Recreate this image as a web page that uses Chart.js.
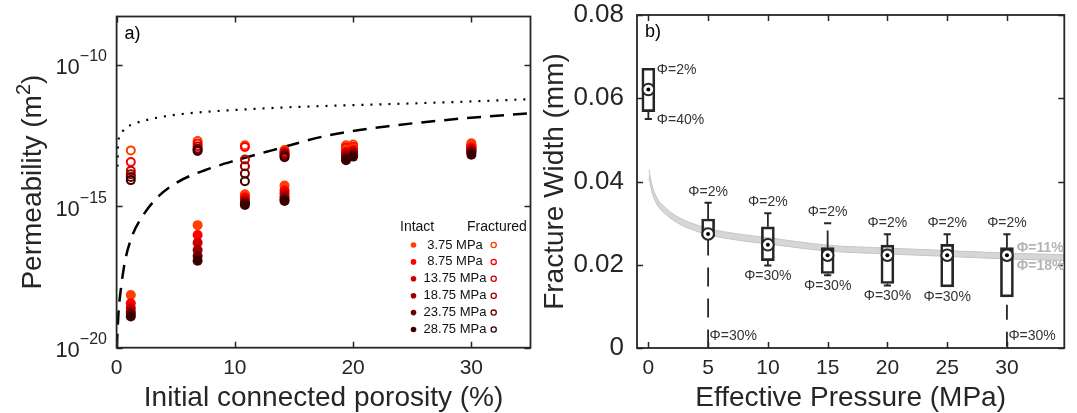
<!DOCTYPE html>
<html><head><meta charset="utf-8">
<script src="https://cdn.jsdelivr.net/npm/chart.js@4.4.1/dist/chart.umd.min.js"></script>
<style>
html,body{margin:0;padding:0;background:#fff;}
#wrap{position:relative;width:1077px;height:413px;overflow:hidden;background:#fff;}
canvas{position:absolute;top:0;}
</style></head><body>
<div id="wrap">
<canvas id="ca" width="540" height="413" style="left:0;width:540px;height:413px"></canvas>
<canvas id="cb" width="537" height="413" style="left:540px;width:537px;height:413px"></canvas>
</div>
<script>
// ---------------- Panel a data (permeability exponents, log10 m^2) ----------------
const porosity = [1.2, 6.85, 10.85, 14.2, 19.4, 20.0, 30.0];
const pressureLabels = ['3.75 MPa', '8.75 MPa', '13.75 MPa', '18.75 MPa', '23.75 MPa', '28.75 MPa'];
const intact375  = [-18.14, -15.67, -14.58, -14.27, -13.00, -12.95, -12.85];
const intact875  = [-18.43, -16.02, -14.69, -14.45, -13.08, -13.02, -12.92];
const intact1375 = [-18.60, -16.29, -14.78, -14.55, -13.15, -13.08, -12.98];
const intact1875 = [-18.73, -16.55, -14.85, -14.67, -13.22, -13.14, -13.05];
const intact2375 = [-18.80, -16.76, -14.90, -14.76, -13.30, -13.20, -13.10];
const intact2875 = [-18.90, -16.93, -14.96, -14.82, -13.38, -13.25, -13.18];
const fractured375  = [-13.03, -12.70, -12.85, -13.02, -12.85, -12.82, -12.78];
const fractured875  = [-13.44, -12.79, -12.91, -13.08, -12.92, -12.90, -12.84];
const fractured1375 = [-13.75, -12.88, -13.35, -13.12, -12.98, -12.96, -12.90];
const fractured1875 = [-13.87, -12.96, -13.59, -13.17, -13.05, -13.02, -12.95];
const fractured2375 = [-13.97, -13.00, -13.85, -13.22, -13.10, -13.08, -13.00];
const fractured2875 = [-14.08, -13.05, -14.12, -13.27, -13.15, -13.12, -13.05];
const dottedX = [0.08, 0.12, 0.3, 0.7, 1.55, 2.7, 4.65, 7.5, 10.5, 15, 21.7, 28, 35];
const dottedY = [-13.6, -12.85, -12.5, -12.26, -12.08, -11.94, -11.79, -11.67, -11.59, -11.5, -11.41, -11.33, -11.22];
const dashedX = [0.02, 0.15, 0.37, 0.71, 1.27, 2.12, 3.5, 5.2, 7.47, 10.1, 13.2, 18.0, 23.7, 29.3, 35];
const dashedY = [-20, -18.83, -17.9, -16.95, -16.1, -15.4, -14.67, -14.14, -13.73, -13.38, -13.02, -12.49, -12.14, -11.9, -11.72];
const xTicksA = [0, 10, 20, 30];
const yTickExpA = [-20, -15, -10];

// ---------------- Panel b data (fracture width, mm) ----------------
const pressureB   = [0, 5, 10, 15, 20, 25, 30];
const boxLow      = [0.0568, 0.0268, 0.0210, 0.0179, 0.0155, 0.0147, 0.0123];
const boxHigh     = [0.0672, 0.0310, 0.0291, 0.0241, 0.0247, 0.0249, 0.0241];
const medianW     = [0.0621, 0.0274, 0.0248, 0.0223, 0.0223, 0.0223, 0.0223];
const whiskerHigh = [0.0672, 0.0349, 0.0324, 0.0282, 0.0273, 0.0273, 0.0273];
const whiskerLow  = [0.0550, 0.0, 0.0198, 0.0175, 0.0150, 0.0147, 0.0];
const upperCap    = [null, 0.0349, 0.0324, 0.0300, 0.0273, 0.0273, 0.0273];
const lowerCap    = [0.0550, null, 0.0198, 0.0175, 0.0150, null, null];
const topLabels    = ['Φ=2%', 'Φ=2%', 'Φ=2%', 'Φ=2%', 'Φ=2%', 'Φ=2%', 'Φ=2%'];
const bottomLabels = ['Φ=40%', 'Φ=30%', 'Φ=30%', 'Φ=30%', 'Φ=30%', 'Φ=30%', 'Φ=30%'];
const bandX   = [0.05, 0.3, 0.7, 1.5, 2.65, 4, 5, 7.5, 10, 15, 20, 25, 30, 34.8];
const band11Y = [0.0428, 0.0392, 0.0362, 0.0335, 0.0312, 0.0296, 0.0287, 0.0274, 0.0265, 0.0247, 0.0240, 0.0234, 0.0228, 0.0224];
const band18Y = [0.0410, 0.0375, 0.0346, 0.0320, 0.0297, 0.0281, 0.0272, 0.0259, 0.0250, 0.0233, 0.0226, 0.0220, 0.0214, 0.0210];
const bandLabels = ['Φ=11%', 'Φ=18%'];
const xTicksB = [0, 5, 10, 15, 20, 25, 30];
const yTicksB = [0, 0.02, 0.04, 0.06, 0.08];

// ---------------- styling ----------------
const FONT = "'Liberation Sans', Arial, Helvetica, sans-serif";
const INK = '#262626';
const pressureColors = ['#ff4000', '#ff0000', '#cc0000', '#9c0000', '#6c0000', '#3a0000'];
Chart.defaults.font.family = FONT;
Chart.defaults.color = INK;

const noPadFit = (prop, size) => s => {
  s[prop] = size;
  s.paddingTop = 0; s.paddingBottom = 0; s.paddingLeft = 0; s.paddingRight = 0;
};

const framePlugin = {
  id: 'frame',
  afterDatasetsDraw(chart) {
    const {ctx, chartArea: {left, right, top, bottom}} = chart;
    const xs = chart.scales.x, ys = chart.scales.y;
    ctx.save();
    ctx.strokeStyle = INK;
    ctx.lineWidth = 1.5;
    ctx.beginPath();
    xs.ticks.forEach(t => {
      const px = Math.round(xs.getPixelForValue(t.value)) + 0.5;
      ctx.moveTo(px, bottom); ctx.lineTo(px, bottom - 6);
      ctx.moveTo(px, top); ctx.lineTo(px, top + 6);
    });
    ys.ticks.forEach(t => {
      const py = Math.round(ys.getPixelForValue(t.value)) + 0.5;
      ctx.moveTo(left, py); ctx.lineTo(left + 6, py);
      ctx.moveTo(right, py); ctx.lineTo(right - 6, py);
    });
    ctx.stroke();
    ctx.lineWidth = 1.8;
    ctx.strokeRect(left, top, right - left, bottom - top);
    ctx.restore();
  }
};

const panelLabel = txt => ({
  id: 'panelLabel' + txt.replace(')', ''),
  afterDraw(chart) {
    const {ctx, chartArea: {left, top}} = chart;
    ctx.save();
    ctx.font = '18px ' + FONT;
    ctx.fillStyle = '#000';
    ctx.textAlign = 'left';
    ctx.textBaseline = 'middle';
    ctx.fillText(txt, left + 8, top + 17.5);
    ctx.restore();
  }
});

// ---------------- Panel a ----------------
const toLogPts = (xs, exps) => xs.map((x, i) => ({x: x, y: Math.pow(10, exps[i])}));
const intactSets = [intact375, intact875, intact1375, intact1875, intact2375, intact2875];
const fracturedSets = [fractured375, fractured875, fractured1375, fractured1875, fractured2375, fractured2875];

const datasetsA = [];
datasetsA.push({type: 'line', label: 'dotted model', data: toLogPts(dottedX, dottedY), borderColor: '#000',
  borderWidth: 2.2, borderDash: [2, 7], pointRadius: 0, cubicInterpolationMode: 'monotone', fill: false, order: 300});
datasetsA.push({type: 'line', label: 'dashed model', data: toLogPts(dashedX, dashedY), borderColor: '#000',
  borderWidth: 2.5, borderDash: [14, 9], pointRadius: 0, cubicInterpolationMode: 'monotone', fill: false, order: 301});
fracturedSets.forEach((s, i) => datasetsA.push({type: 'scatter', label: 'Fractured ' + pressureLabels[i],
  data: toLogPts(porosity, s), pointRadius: 4, pointBorderWidth: 2, pointBackgroundColor: 'rgba(255,255,255,0)',
  pointBorderColor: pressureColors[i], order: 200 - i}));
intactSets.forEach((s, i) => datasetsA.push({type: 'scatter', label: 'Intact ' + pressureLabels[i],
  data: toLogPts(porosity, s), pointRadius: 5, pointBorderWidth: 0, pointBackgroundColor: pressureColors[i],
  pointBorderColor: pressureColors[i], order: 100 - i}));

const legendA = {
  id: 'legendA',
  afterDraw(chart) {
    const {ctx, chartArea: {right, bottom}} = chart;
    ctx.save();
    ctx.fillStyle = '#111';
    ctx.textBaseline = 'middle';
    ctx.font = '14px ' + FONT;
    ctx.textAlign = 'left';
    ctx.fillText('Intact', right - 130.5, bottom - 121);
    ctx.fillText('Fractured', right - 63.5, bottom - 121);
    ctx.font = '13px ' + FONT;
    pressureLabels.forEach((lab, i) => {
      const y = bottom - 102.7 + i * 16.9;
      ctx.fillStyle = pressureColors[i];
      ctx.beginPath(); ctx.arc(right - 117, y, 2.8, 0, Math.PI * 2); ctx.fill();
      ctx.strokeStyle = pressureColors[i]; ctx.lineWidth = 1.3;
      ctx.beginPath(); ctx.arc(right - 36.8, y, 2.6, 0, Math.PI * 2); ctx.stroke();
      ctx.fillStyle = '#111';
      ctx.textAlign = 'center';
      ctx.fillText(lab, right - 75.5, y);
    });
    ctx.restore();
  }
};

// y tick labels with real superscript exponents, and the y title with m^2
const logAxisText = {
  id: 'logAxisText',
  afterDraw(chart) {
    const {ctx, chartArea: {left, top, bottom}} = chart;
    const ys = chart.scales.y;
    ctx.save();
    ctx.fillStyle = INK;
    ctx.textBaseline = 'middle';
    ys.ticks.forEach(t => {
      const py = ys.getPixelForValue(t.value);
      const expTxt = String(Math.round(Math.log10(t.value))).replace('-', '\u2212');
      ctx.font = '16px ' + FONT;
      ctx.textAlign = 'right';
      const xr = left - 9.6;
      const ew = ctx.measureText(expTxt).width;
      ctx.fillText(expTxt, xr, py - 8);
      ctx.font = '22px ' + FONT;
      ctx.fillText('10', xr - ew, py + 3.5);
    });
    // axis title
    const mainTxt = 'Permeability (m', supTxt = '2', endTxt = ')';
    ctx.font = '28px ' + FONT;
    const w1 = ctx.measureText(mainTxt).width, w3 = ctx.measureText(endTxt).width;
    ctx.font = '20px ' + FONT;
    const w2 = ctx.measureText(supTxt).width;
    const total = w1 + w2 + w3;
    ctx.translate(41, (top + bottom) / 2);
    ctx.rotate(-Math.PI / 2);
    ctx.textAlign = 'left';
    ctx.textBaseline = 'alphabetic';
    ctx.font = '28px ' + FONT;
    ctx.fillText(mainTxt, -total / 2, 0);
    ctx.font = '20px ' + FONT;
    ctx.fillText(supTxt, -total / 2 + w1, -11);
    ctx.font = '28px ' + FONT;
    ctx.fillText(endTxt, -total / 2 + w1 + w2, 0);
    ctx.restore();
  }
};

new Chart(document.getElementById('ca'), {
  type: 'scatter',
  data: {datasets: datasetsA},
  options: {
    responsive: false, animation: false,
    layout: {padding: {top: 16.5, right: 9.5, left: 0, bottom: 0}},
    plugins: {legend: {display: false}, tooltip: {enabled: false}},
    scales: {
      x: {
        type: 'linear', min: 0, max: 35, offset: false,
        grid: {display: false, drawTicks: false}, border: {display: false},
        afterBuildTicks: s => { s.ticks = xTicksA.map(v => ({value: v})); },
        afterFit: noPadFit('height', 65.3),
        ticks: {font: {size: 21}, color: INK, padding: 8, maxRotation: 0, autoSkip: false, callback: v => String(v)},
        title: {display: true, text: 'Initial connected porosity (%)', color: INK,
          font: {size: 28, lineHeight: 1}, padding: {top: 0, bottom: 1}}
      },
      y: {
        type: 'logarithmic', min: 1e-20, max: Math.pow(10, -8.3),
        grid: {display: false, drawTicks: false}, border: {display: false},
        afterBuildTicks: s => { s.ticks = yTickExpA.map(e => ({value: Math.pow(10, e)})); },
        afterFit: noPadFit('width', 116.6),
        ticks: {display: false},
        title: {display: false}
      }
    }
  },
  plugins: [framePlugin, legendA, logAxisText, panelLabel('a)')]
});

// ---------------- Panel b ----------------
const toXY = (xs, ys) => xs.map((x, i) => ({x: x, y: ys[i]}));
const solidWhiskers = [];
pressureB.forEach((p, i) => {
  if (whiskerHigh[i] > boxHigh[i]) {
    solidWhiskers.push({x: p, y: boxHigh[i]}, {x: p, y: whiskerHigh[i]}, {x: p, y: null});
  }
  if (whiskerLow[i] > 0 && whiskerLow[i] < boxLow[i]) {
    solidWhiskers.push({x: p, y: whiskerLow[i]}, {x: p, y: boxLow[i]}, {x: p, y: null});
  }
});
const capPts = [];
pressureB.forEach((p, i) => {
  if (upperCap[i] !== null) capPts.push({x: p, y: upperCap[i]});
  if (lowerCap[i] !== null) capPts.push({x: p, y: lowerCap[i]});
});

const datasetsB = [
  {type: 'line', label: 'Φ=11%', data: toXY(bandX, band11Y), borderColor: '#c4c4c4', borderWidth: 1,
    pointRadius: 0, cubicInterpolationMode: 'monotone', fill: false, order: 400},
  {type: 'line', label: 'Φ=18%', data: toXY(bandX, band18Y), borderColor: '#c4c4c4', borderWidth: 1,
    pointRadius: 0, cubicInterpolationMode: 'monotone', fill: '-1', backgroundColor: 'rgba(200,200,200,0.75)', order: 399},
  {type: 'bar', label: 'box', data: pressureB.map((p, i) => ({x: p, y: [boxLow[i], boxHigh[i]]})),
    backgroundColor: 'rgba(255,255,255,0)', borderColor: INK, borderWidth: 2, borderSkipped: false,
    barThickness: 13, order: 50},
  {type: 'line', label: 'whiskers', data: solidWhiskers, borderColor: INK, borderWidth: 1.8,
    pointRadius: 0, spanGaps: false, fill: false, order: 40},
  {type: 'scatter', label: 'caps', data: capPts, pointStyle: 'line', pointRadius: 3.6,
    pointBorderWidth: 2, pointBorderColor: INK, order: 30},
  {type: 'scatter', label: 'median', data: toXY(pressureB, medianW), pointRadius: 5.8,
    pointBorderWidth: 2, pointBackgroundColor: '#fff', pointBorderColor: INK, order: 20},
  {type: 'scatter', label: 'median dot', data: toXY(pressureB, medianW), pointRadius: 2,
    pointBorderWidth: 0, pointBackgroundColor: '#000', order: 10}
];
let dashCount = 0;
pressureB.forEach((p, i) => {
  if (whiskerLow[i] === 0) {
    datasetsB.push({type: 'line', label: 'low whisker', data: [{x: p, y: boxLow[i]}, {x: p, y: 0}],
      borderColor: INK, borderWidth: 1.8, borderDash: dashCount === 0 ? [19, 12] : [15, 12],
      borderDashOffset: dashCount === 0 ? 0 : 19, pointRadius: 0, fill: false, order: 41});
    dashCount++;
  }
});

const labelsB = {
  id: 'labelsB',
  afterDatasetsDraw(chart) {
    const {ctx, chartArea: {right, bottom}} = chart;
    const xs = chart.scales.x, ys = chart.scales.y;
    ctx.save();
    ctx.font = '14px ' + FONT;
    ctx.fillStyle = '#333';
    ctx.textBaseline = 'middle';
    pressureB.forEach((p, i) => {
      const px = xs.getPixelForValue(p);
      if (i === 0) {
        ctx.textAlign = 'left';
        ctx.fillText(topLabels[i], px + 8.5, ys.getPixelForValue(boxHigh[i]) + 1.5);
        ctx.fillText(bottomLabels[i], px + 8.5, ys.getPixelForValue(whiskerLow[i]) + 1.5);
        return;
      }
      const topVal = upperCap[i] !== null ? upperCap[i] : whiskerHigh[i];
      ctx.textAlign = 'center';
      ctx.fillText(topLabels[i], px, ys.getPixelForValue(topVal) - 11);
      if (whiskerLow[i] === 0) {
        ctx.textAlign = 'left';
        ctx.fillText(bottomLabels[i], px + 1.5, bottom - 11.5);
      } else {
        const lowVal = Math.min(boxLow[i], lowerCap[i] !== null ? lowerCap[i] : boxLow[i]);
        ctx.textAlign = 'center';
        ctx.fillText(bottomLabels[i], px, ys.getPixelForValue(lowVal) + 10.5);
      }
    });
    ctx.font = 'bold 14px ' + FONT;
    ctx.fillStyle = '#b4b4b4';
    ctx.textAlign = 'left';
    ctx.fillText(bandLabels[0], right - 47.5, ys.getPixelForValue(band11Y[band11Y.length - 1]) - 7);
    ctx.fillText(bandLabels[1], right - 47.5, ys.getPixelForValue(band18Y[band18Y.length - 1]) + 6);
    ctx.restore();
  }
};

new Chart(document.getElementById('cb'), {
  type: 'scatter',
  data: {datasets: datasetsB},
  options: {
    responsive: false, animation: false,
    layout: {padding: {top: 15, right: 12.7, left: 0, bottom: 0}},
    plugins: {legend: {display: false}, tooltip: {enabled: false}},
    scales: {
      x: {
        type: 'linear', min: -0.95, max: 34.8, offset: false,
        grid: {display: false, drawTicks: false}, border: {display: false},
        afterBuildTicks: s => { s.ticks = xTicksB.map(v => ({value: v})); },
        afterFit: noPadFit('height', 65),
        ticks: {font: {size: 21}, color: INK, padding: 8, maxRotation: 0, autoSkip: false, callback: v => String(v)},
        title: {display: true, text: 'Effective Pressure (MPa)', color: INK,
          font: {size: 28, lineHeight: 1}, padding: {top: 0, bottom: 1}}
      },
      y: {
        type: 'linear', min: 0, max: 0.08,
        grid: {display: false, drawTicks: false}, border: {display: false},
        afterBuildTicks: s => { s.ticks = yTicksB.map(v => ({value: v})); },
        afterFit: noPadFit('width', 97),
        ticks: {font: {size: 26}, color: INK, padding: 13, autoSkip: false,
          callback: v => v === 0 ? '0' : v.toFixed(2)},
        title: {display: true, text: 'Fracture Width (mm)', color: INK,
          font: {size: 28, lineHeight: 1}, padding: {top: 1.5, bottom: 0}}
      }
    }
  },
  plugins: [framePlugin, labelsB, panelLabel('b)')]
});
</script>
</body></html>
